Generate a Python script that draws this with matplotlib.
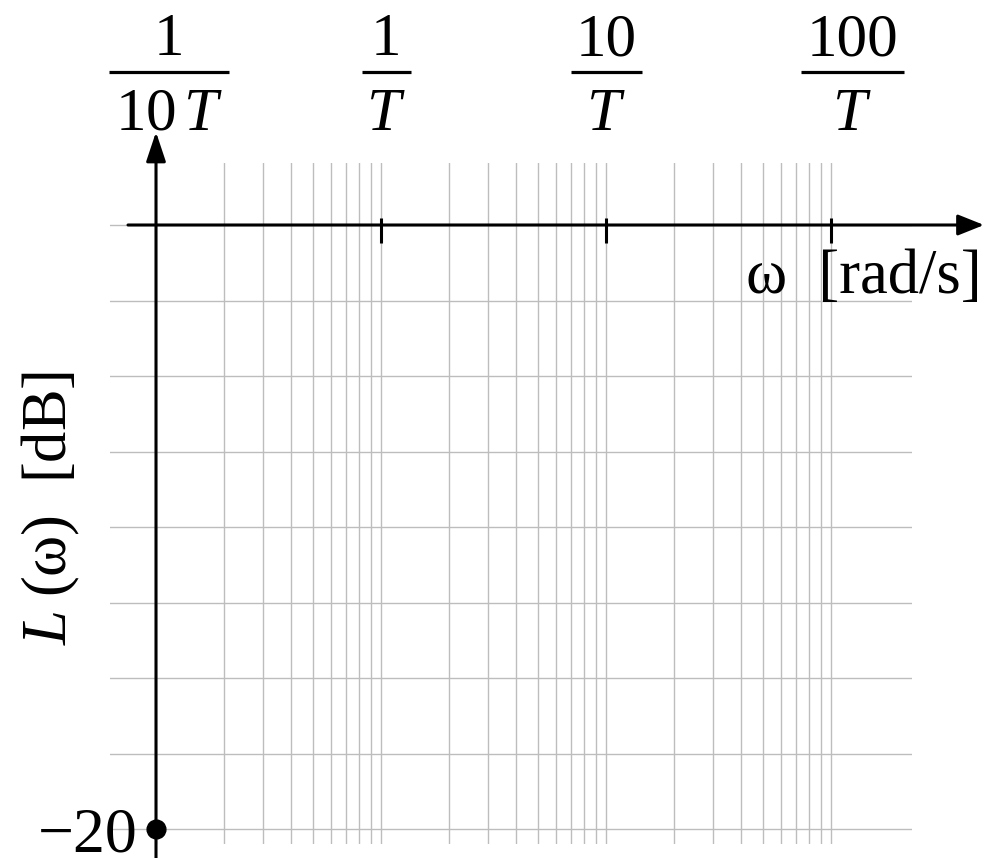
import matplotlib
matplotlib.use("Agg")
import matplotlib.pyplot as plt
from matplotlib.lines import Line2D
from matplotlib.ticker import FixedLocator, NullFormatter

# log frequency grid, in units of omega*T
omega_T_decades = [0.1, 1, 10, 100]
decade_num = ["1", "1", "10", "100"]
decade_den = [r"$10\,T$", r"$T$", r"$T$", r"$T$"]
grid_omega_T = [0.1, 0.2, 0.3, 0.4, 0.5, 0.6, 0.7, 0.8, 0.9,
                1, 2, 3, 4, 5, 6, 7, 8, 9,
                10, 20, 30, 40, 50, 60, 70, 80, 90, 100]
grid_dB = [0, -2.5, -5, -7.5, -10, -12.5, -15, -17.5, -20]
marked_dB = -20
marked_label = "\u221220"
x_label = "\u03c9  [rad/s]"
y_label = "$L$\u2009(\u03c9)  [dB]"

plt.rcParams.update({
    "font.family": ["Liberation Serif", "DejaVu Serif"],
    "mathtext.fontset": "custom",
    "mathtext.rm": "Liberation Serif",
    "mathtext.it": "Liberation Serif:italic",
    "mathtext.bf": "Liberation Serif:bold",
    "font.size": 44,
})

W, H = 984, 858
fig = plt.figure(figsize=(W / 100, H / 100), dpi=100)
# axes box = extent of the grid (pixels 110..912 x 163..844)
ax = fig.add_axes([110 / W, 1 - 844 / H, (912 - 110) / W, (844 - 163) / H])
ax.set_xscale("log")
ax.set_xlim(10 ** (-1 - 46 / 225), 10 ** (-1 + 756 / 225))
ax.set_ylim(-(844 - 225) * 20 / 604, (225 - 163) * 20 / 604)

ax.xaxis.set_major_locator(FixedLocator(grid_omega_T))
ax.xaxis.set_minor_locator(FixedLocator([]))
ax.yaxis.set_major_locator(FixedLocator(grid_dB))
ax.xaxis.set_major_formatter(NullFormatter())
ax.xaxis.set_minor_formatter(NullFormatter())
ax.yaxis.set_major_formatter(NullFormatter())
ax.tick_params(which="both", length=0)
ax.grid(True, which="major", color="#bdbdbd", lw=1.0)
for s in ax.spines.values():
    s.set_visible(False)

# axes with arrow heads
ax.annotate("", xy=(10 ** (-1 + 828 / 225), 0), xytext=(10 ** (-1 - 28 / 225), 0),
            arrowprops=dict(arrowstyle="-|>,head_length=0.8,head_width=0.32", lw=2.2, color="k",
                            shrinkA=0, shrinkB=0, mutation_scale=20, clip_on=False),
            annotation_clip=False)
ax.annotate("", xy=(0.1, (225 - 132) * 20 / 604), xytext=(0.1, -(860 - 225) * 20 / 604),
            arrowprops=dict(arrowstyle="-|>,head_length=0.9,head_width=0.3", lw=2.2, color="k",
                            shrinkA=0, shrinkB=0, mutation_scale=20, clip_on=False),
            annotation_clip=False)

# decade ticks on the frequency axis
ax.vlines(omega_T_decades[1:], -0.6, 0.23, color="k", lw=2.2)

# decade labels as stacked fractions above the plot
label_dx = [13, 5, 0, 21]      # label centre relative to the decade, px
bar_w = [120, 49, 71, 103]     # fraction bar length, px
for xv, num, den, dx, bw in zip(omega_T_decades, decade_num, decade_den, label_dx, bar_w):
    ax.annotate(num, xy=(xv, 0), xytext=(dx, 225 - 55), textcoords="offset pixels",
                ha="center", va="baseline", annotation_clip=False)
    ax.annotate(den, xy=(xv, 0), xytext=(dx, 225 - 130), textcoords="offset pixels",
                ha="center", va="baseline", annotation_clip=False)
    xc = ax.transData.transform((xv, 0))[0] + dx
    fig.add_artist(Line2D([(xc - bw / 2) / W, (xc + bw / 2) / W], [1 - 72 / H, 1 - 72 / H],
                          transform=fig.transFigure, color="k", lw=2.3, solid_capstyle="butt"))

# marked level on the magnitude axis
ax.plot([omega_T_decades[0]], [marked_dB], "o", ms=13.5, color="k", clip_on=False, zorder=5)
ax.annotate(marked_label, xy=(omega_T_decades[0], marked_dB), xytext=(-18, -23),
            textcoords="offset pixels", ha="right", va="baseline", fontsize=46,
            annotation_clip=False)

fig.text(982 / W, 1 - 293 / H, x_label, ha="right", va="baseline", fontsize=45)
fig.text(51 / W, 1 - 508 / H, y_label, rotation=90, ha="center", va="center", fontsize=45)

fig.savefig("out.png", dpi=100)
